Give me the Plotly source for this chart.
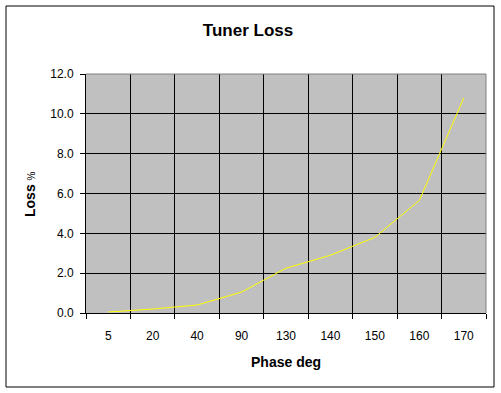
import plotly.graph_objects as go

phase_labels = ["5", "20", "40", "90", "130", "140", "150", "160", "170"]
loss_values = [0.05, 0.2, 0.4, 1.05, 2.25, 2.9, 3.8, 5.65, 10.8]
y_ticks = [0, 2, 4, 6, 8, 10, 12]

W, H = 501, 393
L, R, T, B = 86, 15, 74, 80
pw, ph = W - L - R, H - T - B

def px_x(x):
    return (x - L) / pw

def px_y(y):
    return (H - B - y) / ph

fig = go.Figure()
fig.add_trace(go.Scatter(
    x=phase_labels, y=loss_values, mode="lines",
    line=dict(color="#FFFF00", width=1), hoverinfo="skip", showlegend=False))

font = dict(family="Arial, Liberation Sans, sans-serif", color="black")

fig.update_layout(
    width=W, height=H,
    margin=dict(l=L, r=R, t=T, b=B),
    paper_bgcolor="white", plot_bgcolor="#C0C0C0",
    font=dict(**font, size=12),
    title=dict(text="<b>Tuner Loss</b>", x=(248) / W, xanchor="center",
               y=1 - 30 / H, yanchor="middle", yref="container",
               font=dict(**font, size=17)),
    xaxis=dict(type="category", tickson="boundaries", showgrid=True,
               gridcolor="black", gridwidth=1, ticks="outside", ticklen=5,
               tickcolor="black", showline=True, linecolor="black", linewidth=1,
               ticklabelstandoff=12, tickfont=dict(**font, size=12),
               zeroline=False, range=[-0.5, 8.5]),
    yaxis=dict(range=[0, 12], tickvals=y_ticks,
               ticktext=[f"{v:.1f}" for v in y_ticks],
               showgrid=True, gridcolor="black", gridwidth=1,
               ticks="outside", ticklen=5, tickcolor="black",
               showline=True, linecolor="black", linewidth=1,
               zeroline=False, ticklabelstandoff=4,
               tickfont=dict(**font, size=12)),
    shapes=[
        dict(type="rect", xref="paper", yref="paper",
             x0=px_x(6), x1=px_x(494), y0=px_y(387), y1=px_y(6),
             line=dict(color="black", width=1), fillcolor="rgba(0,0,0,0)",
             layer="below"),
        dict(type="line", xref="paper", yref="paper", x0=0, x1=1, y0=1, y1=1,
             line=dict(color="#808080", width=1)),
        dict(type="line", xref="paper", yref="paper", x0=1, x1=1, y0=0, y1=1,
             line=dict(color="#808080", width=1)),
    ],
    annotations=[
        dict(text="<b>Phase deg</b>", xref="paper", yref="paper",
             x=px_x(286), y=px_y(362), xanchor="center", yanchor="middle",
             showarrow=False, font=dict(**font, size=14)),
        dict(text="<b>Loss</b> <span style='font-size:10px'>%</span>",
             xref="paper", yref="paper",
             x=px_x(30), y=px_y(194), xanchor="center", yanchor="middle",
             textangle=-90, showarrow=False, font=dict(**font, size=14)),
    ],
)

fig.write_html("out.html")
